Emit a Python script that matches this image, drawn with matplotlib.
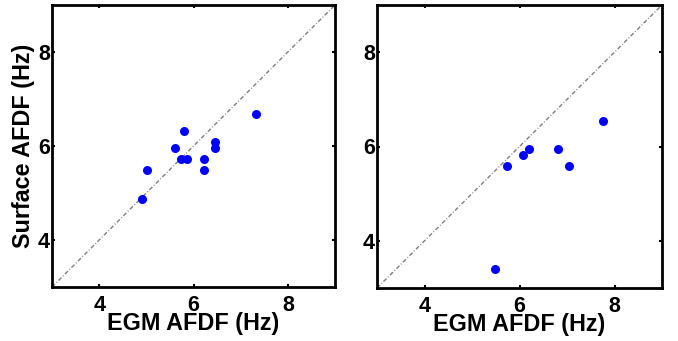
import matplotlib
matplotlib.use('Agg')
import matplotlib.pyplot as plt

plt.rcParams['font.family'] = ['Liberation Sans', 'DejaVu Sans']
plt.rcParams['font.weight'] = 'bold'

# left panel
egm_a = [4.90, 5.01, 5.61, 5.79, 5.74, 5.87, 6.22, 6.22, 6.46, 6.46, 7.32]
surf_a = [4.87, 5.48, 5.96, 6.32, 5.72, 5.72, 5.72, 5.48, 6.09, 5.95, 6.69]
# right panel
egm_b = [5.49, 5.74, 6.08, 6.21, 6.80, 7.04, 7.76]
surf_b = [3.41, 5.58, 5.82, 5.94, 5.94, 5.58, 6.54]

lims = [3, 9]
ticks = [4, 6, 8]

fig = plt.figure(figsize=(6.78, 3.41), dpi=100)
ax1 = fig.add_axes([52/678, 54/341, 283/678, 282/341])
ax2 = fig.add_axes([377/678, 53/341, 285/678, 283/341])

for ax, x, y in [(ax1, egm_a, surf_a), (ax2, egm_b, surf_b)]:
    ax.plot(lims, lims, color='0.5', linestyle=(0, (3, 1.5, 0.6, 1.5)), linewidth=1.0, zorder=1)
    ax.plot(x, y, 'o', color='#0000ff', markersize=6.5, markeredgewidth=0, zorder=2)
    ax.set_xlim(lims)
    ax.set_ylim(lims)
    ax.set_xticks(ticks)
    ax.set_yticks(ticks)
    ax.tick_params(direction='in', length=2.5, width=1.5, top=True, right=True,
                   labelsize=15.5)
    ax.tick_params(axis='x', pad=6)
    ax.tick_params(axis='y', pad=1.5)
    for s in ax.spines.values():
        s.set_linewidth(2)
    ax.set_xlabel('EGM AFDF (Hz)', fontsize=16.8, fontweight='bold', labelpad=-3)

ax1.set_ylabel('Surface AFDF (Hz)', fontsize=16.8, fontweight='bold', labelpad=2)

fig.savefig('out.png', dpi=100)
